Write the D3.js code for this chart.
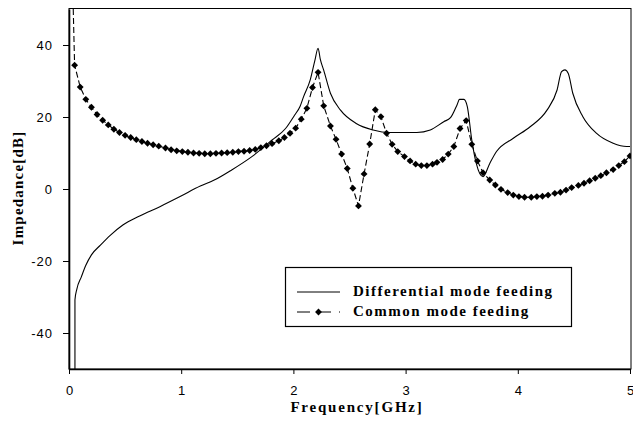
<!DOCTYPE html>
<html>
<head>
<meta charset="utf-8">
<script src="https://cdn.jsdelivr.net/npm/d3@7"></script>
<style>
  html, body { margin: 0; padding: 0; background: #fff; }
  svg { display: block; }
  .tick text { font-family: "Liberation Sans", Arial, sans-serif; font-size: 13px; fill: #000; }
  .y-axis .tick text { letter-spacing: 1px; }
  .title { font-family: "Liberation Serif", "Times New Roman", serif; font-weight: bold; font-size: 15px; fill: #000; }
</style>
</head>
<body>
<svg id="chart" width="633" height="426"></svg>
<script>
// Differential mode feeding (solid line)
const diffFreq = [0.053, 0.053, 0.07, 0.11, 0.15, 0.20, 0.28, 0.37, 0.48, 0.63, 0.81, 0.99, 1.17, 1.29, 1.45,
  1.63, 1.81, 1.93, 2.01, 2.06, 2.09, 2.15, 2.19, 2.22, 2.24, 2.27, 2.33, 2.42, 2.56, 2.71, 2.86, 3.10, 3.22,
  3.34, 3.40, 3.46, 3.48, 3.52, 3.55, 3.59, 3.63, 3.69, 3.75, 3.81, 3.96, 4.11, 4.26, 4.35, 4.39, 4.42, 4.45,
  4.49, 4.58, 4.70, 4.85, 4.97, 5.00];
const diffImp = [-55, -30.8, -27.8, -24.4, -21.2, -18.3, -15.6, -12.8, -10.0, -7.5, -4.9, -2.1, 0.8, 2.4, 5.3,
  9.0, 13.6, 16.8, 20.5, 23.0, 25.6, 30.3, 35.5, 39.1, 36.0, 33.0, 26.6, 21.9, 18.2, 16.4, 15.7, 15.7, 16.4,
  18.7, 19.8, 23.5, 24.9, 24.9, 22.9, 13.6, 7.1, 3.4, 7.1, 10.4, 14.1, 17.3, 21.9, 27.5, 32.6, 33.1, 32.1,
  26.6, 20.1, 15.5, 12.7, 11.8, 11.8];

// Common mode feeding (dashed line with diamond markers)
const commFreq = [0.03, 0.05, 0.10, 0.15, 0.20, 0.25, 0.30, 0.35, 0.40, 0.45, 0.50, 0.55, 0.60, 0.65, 0.70,
  0.75, 0.80, 0.86, 0.91, 0.96, 1.01, 1.06, 1.11, 1.16, 1.21, 1.26, 1.31, 1.36, 1.41, 1.46, 1.51, 1.56, 1.61,
  1.66, 1.71, 1.76, 1.81, 1.87, 1.92, 1.97, 2.02, 2.07, 2.12, 2.17, 2.22, 2.27, 2.33, 2.38, 2.43, 2.48, 2.53,
  2.58, 2.63, 2.68, 2.73, 2.78, 2.83, 2.88, 2.93, 2.99, 3.04, 3.09, 3.14, 3.19, 3.24, 3.28, 3.33, 3.38, 3.43,
  3.485, 3.54, 3.59, 3.64, 3.69, 3.75, 3.80, 3.85, 3.91, 3.96, 4.01, 4.06, 4.12, 4.17, 4.22, 4.27, 4.33, 4.38,
  4.43, 4.48, 4.54, 4.59, 4.64, 4.69, 4.74, 4.79, 4.85, 4.90, 4.95, 5.00];
const commImp = [60, 34.4, 28.3, 24.9, 22.7, 20.7, 19.1, 17.8, 16.6, 15.7, 14.9, 14.3, 13.7, 13.2, 12.7,
  12.3, 11.9, 11.4, 10.9, 10.6, 10.4, 10.2, 10.0, 9.9, 9.8, 9.8, 9.9, 10.0, 10.1, 10.2, 10.4, 10.5, 10.7,
  11.0, 11.5, 12.0, 12.6, 13.4, 14.3, 15.5, 16.9, 19.4, 22.4, 28.2, 32.4, 23.1, 17.5, 13.8, 9.7, 5.7, 0.2,
  -4.7, 4.2, 12.5, 22.0, 20.1, 15.5, 12.4, 10.4, 9.0, 7.8, 6.9, 6.5, 6.5, 6.9, 7.4, 8.2, 9.7, 11.8,
  16.8, 19.0, 12.4, 7.8, 4.5, 2.5, 1.1, -0.1, -1.0, -1.7, -2.1, -2.3, -2.3, -2.1, -2.0, -1.7, -1.2, -0.9,
  -0.3, 0.4, 1.0, 1.6, 2.3, 3.0, 3.7, 4.5, 5.4, 6.5, 7.6, 9.2];

const xTicks = [0, 1, 2, 3, 4, 5];
const yTicks = [-40, -20, 0, 20, 40];
const seriesNames = ["Differential mode feeding", "Common mode feeding"];

const svg = d3.select("#chart");
const plot = { left: 69, right: 631, top: 8.5, bottom: 369 };

const x = d3.scaleLinear().domain([0, 5]).range([plot.left, plot.right - 1]);
const y = d3.scaleLinear().domain([-50, 50]).range([plot.bottom, plot.top + 0.5]);

svg.append("defs").append("clipPath").attr("id", "plotClip")
  .append("rect")
  .attr("x", plot.left).attr("y", plot.top)
  .attr("width", plot.right - plot.left).attr("height", plot.bottom - plot.top);

// Frame around the plotting area
svg.append("rect")
  .attr("x", plot.left).attr("y", plot.top)
  .attr("width", plot.right - plot.left).attr("height", plot.bottom - plot.top)
  .attr("fill", "none").attr("stroke", "#000").attr("stroke-width", 1);

// Axes
const yAxis = svg.append("g").attr("class", "y-axis")
  .attr("transform", `translate(${plot.left},0)`)
  .call(d3.axisLeft(y).tickValues(yTicks).tickFormat(d => String(d))
    .tickSize(6).tickPadding(10).tickSizeOuter(0));
yAxis.select(".domain").attr("stroke-width", 1.6);

const xAxis = svg.append("g").attr("class", "x-axis")
  .attr("transform", `translate(0,${plot.bottom})`)
  .call(d3.axisBottom(x).tickValues(xTicks).tickFormat(d => String(d))
    .tickSize(5).tickPadding(12).tickSizeOuter(0));
xAxis.select(".domain").attr("stroke-width", 1.4);

// Axis titles
svg.append("text").attr("class", "title")
  .attr("x", 357).attr("y", 412).attr("text-anchor", "middle")
  .attr("letter-spacing", 1.8)
  .text("Frequency[GHz]");
svg.append("text").attr("class", "title")
  .attr("transform", "translate(23,188) rotate(-90)").attr("text-anchor", "middle")
  .attr("letter-spacing", 1.2)
  .text("Impedance[dB]");

const plotArea = svg.append("g").attr("clip-path", "url(#plotClip)");

const diffData = diffFreq.map((f, i) => [f, diffImp[i]]);
const commData = commFreq.map((f, i) => [f, commImp[i]]);

const smoothLine = d3.line().x(d => x(d[0])).y(d => y(d[1])).curve(d3.curveMonotoneX);
const straightLine = d3.line().x(d => x(d[0])).y(d => y(d[1])).curve(d3.curveLinear);

plotArea.append("path")
  .datum(diffData)
  .attr("fill", "none").attr("stroke", "#000").attr("stroke-width", 1.1)
  .attr("d", smoothLine);

plotArea.append("path")
  .datum(commData)
  .attr("fill", "none").attr("stroke", "#000").attr("stroke-width", 1.1)
  .attr("stroke-dasharray", "6,3")
  .attr("d", straightLine);

const diamond = d3.symbol().type(d3.symbolDiamond2).size(30);
plotArea.selectAll(".marker")
  .data(commData)
  .join("path")
  .attr("class", "marker")
  .attr("transform", d => `translate(${x(d[0])},${y(d[1])})`)
  .attr("d", diamond)
  .attr("fill", "#000");

// Legend
const legend = svg.append("g");
legend.append("rect")
  .attr("x", 285.5).attr("y", 267.5).attr("width", 286).attr("height", 59)
  .attr("fill", "#fff").attr("stroke", "#000").attr("stroke-width", 1.2);

legend.append("line")
  .attr("x1", 297).attr("x2", 340).attr("y1", 292).attr("y2", 292)
  .attr("stroke", "#000").attr("stroke-width", 1);
legend.append("line")
  .attr("x1", 297).attr("x2", 340).attr("y1", 312).attr("y2", 312)
  .attr("stroke", "#000").attr("stroke-width", 1).attr("stroke-dasharray", "13,8");
legend.append("path")
  .attr("transform", "translate(318.5,312)").attr("d", diamond).attr("fill", "#000");

legend.selectAll(".legtext")
  .data(seriesNames)
  .join("text")
  .attr("class", "title legtext")
  .attr("letter-spacing", 1.5)
  .attr("x", 353).attr("y", (d, i) => 296 + i * 20)
  .text(d => d);
</script>
</body>
</html>
